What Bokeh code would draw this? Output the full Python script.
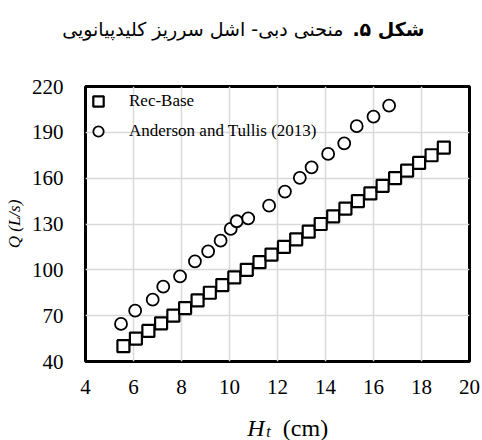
from bokeh.plotting import figure
from bokeh.layouts import column
from bokeh.models import Range1d, FixedTicker, Legend, LegendItem
from bokeh.core.properties import value
from bokeh.embed import file_html
from bokeh.resources import INLINE

# ---- data ----
rec_h = [5.58, 6.10, 6.62, 7.15, 7.66, 8.15, 8.67, 9.18, 9.70, 10.20, 10.72, 11.25,
         11.75, 12.27, 12.78, 13.30, 13.80, 14.32, 14.83, 15.35, 15.87, 16.38, 16.90,
         17.40, 17.90, 18.42, 18.93]
rec_q = [50, 55, 60, 65, 70, 75, 80, 85, 90, 95, 100, 105, 110, 115, 120, 125, 130,
         135, 140, 145, 150, 155, 160, 165, 170, 175, 180]
and_h = [5.48, 6.07, 6.80, 7.24, 7.94, 8.56, 9.11, 9.63, 10.05, 10.30, 10.78, 11.65,
         12.31, 12.93, 13.42, 14.11, 14.78, 15.30, 16.00, 16.65]
and_q = [64.6, 73.3, 80.5, 89.0, 95.7, 105.6, 112.1, 119.1, 126.8, 131.8, 133.7, 142.0,
         151.2, 160.2, 167.1, 175.9, 182.8, 194.0, 200.3, 207.5]
x_ticks = [4, 6, 8, 10, 12, 14, 16, 18, 20]
y_ticks = [40, 70, 100, 130, 160, 190, 220]
series_names = ["Rec-Base", "Anderson and Tullis (2013)"]
title_bold = "شکل ۵.\u200f"
title_rest = "منحنی دبی- اشل سرریز کلیدپیانویی"
x_label_parts = ["H", "t", "(cm)"]
y_label = "Q (L/s)"

SERIF = "Liberation Serif"
W = 482
TOP_H = 74
MAIN_H = 326
BOT_H = 40


def blank_strip(h):
    f = figure(width=W, height=h, output_backend="svg", toolbar_location=None,
               title=None, x_axis_type=None, y_axis_type=None,
               x_range=Range1d(0, W), y_range=Range1d(0, h),
               min_border_left=0, min_border_right=0, min_border_top=0,
               min_border_bottom=0, frame_align=False)
    f.grid.visible = False
    f.outline_line_color = None
    f.background_fill_color = "white"
    f.border_fill_color = "white"
    return f


# ---- title strip ----
top = blank_strip(TOP_H)
top.text(x=[424], y=[TOP_H - 28], text=[title_bold], text_font=value("DejaVu Sans"),
         text_font_style="bold", text_font_size="19px", text_align="right",
         text_baseline="middle", text_color="black")
top.text(x=[343], y=[TOP_H - 28], text=[title_rest], text_font=value("DejaVu Sans"),
         text_font_size="19px", text_align="right",
         text_baseline="middle", text_color="black")

# ---- main plot ----
p = figure(width=W, height=MAIN_H, output_backend="svg", toolbar_location=None,
           title=None, x_range=Range1d(4, 20), y_range=Range1d(40, 220),
           min_border_left=85, min_border_right=13, min_border_top=12, min_border_bottom=39,
           frame_align=False)
p.background_fill_color = "white"
p.border_fill_color = "white"
p.outline_line_color = "black"
p.outline_line_width = 3

p.xaxis.ticker = FixedTicker(ticks=x_ticks)
p.yaxis.ticker = FixedTicker(ticks=y_ticks)
for ax in (p.xaxis[0], p.yaxis[0]):
    ax.axis_line_color = None
    ax.major_tick_line_color = None
    ax.minor_tick_line_color = None
    ax.major_tick_out = 0
    ax.major_tick_in = 0
    ax.minor_tick_out = 0
    ax.minor_tick_in = 0
    ax.major_label_text_font = SERIF
    ax.major_label_text_font_size = "21px"
    ax.major_label_text_color = "black"
p.xaxis.major_label_standoff = 18
p.yaxis.major_label_standoff = 22

p.yaxis.axis_label = y_label
p.yaxis.axis_label_text_font = SERIF
p.yaxis.axis_label_text_font_style = "italic"
p.yaxis.axis_label_text_font_size = "17px"
p.yaxis.axis_label_text_color = "black"
p.yaxis.axis_label_standoff = 5

p.xgrid.grid_line_color = "#d9d9d9"
p.ygrid.grid_line_color = "#d9d9d9"
p.xgrid.grid_line_width = 1.5
p.ygrid.grid_line_width = 1.5

r1 = p.scatter(rec_h, rec_q, marker="square", size=12, line_color="black",
               line_width=2.2, fill_color="white")
r2 = p.scatter(and_h, and_q, marker="circle", size=12, line_color="black",
               line_width=1.8, fill_color="white")

legend = Legend(items=[LegendItem(label=series_names[0], renderers=[r1]),
                       LegendItem(label=series_names[1], renderers=[r2])],
                location="top_left", glyph_width=26, glyph_height=30,
                label_standoff=18, spacing=0, padding=0, margin=0,
                label_text_font=SERIF, label_text_font_size="17px",
                label_text_color="black",
                background_fill_alpha=0, border_line_alpha=0)
p.add_layout(legend, "center")

# ---- x-axis label strip ----
bot = blank_strip(BOT_H)
bot.text(x=[255.5], y=[13], text=[x_label_parts[0]], text_font=value(SERIF),
         text_font_style="italic", text_font_size="24px", text_align="center",
         text_baseline="middle", text_color="black")
bot.text(x=[268], y=[9], text=[x_label_parts[1]], text_font=value(SERIF),
         text_font_style="italic", text_font_size="16px", text_align="center",
         text_baseline="middle", text_color="black")
bot.text(x=[305], y=[13], text=[x_label_parts[2]], text_font=value(SERIF),
         text_font_size="24px", text_align="center",
         text_baseline="middle", text_color="black")

layout = column(top, p, bot, spacing=0)
open("out.html", "w").write(file_html(layout, INLINE))
